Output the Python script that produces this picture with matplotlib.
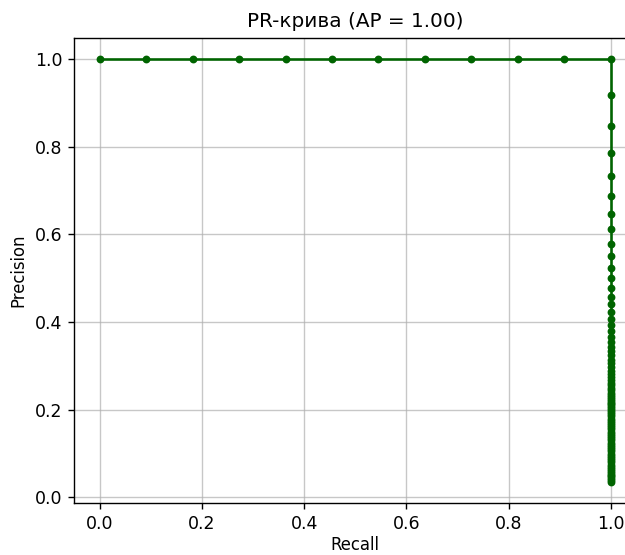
#!/usr/bin/env python3

import matplotlib
matplotlib.use('Agg')
import matplotlib.pyplot as plt

# sklearn-style PR curve output: 11 positives, recall steps of 1/11
recall_top = [0.0, 0.091, 0.182, 0.273, 0.364, 0.455, 0.545, 0.636,
              0.727, 0.818, 0.909, 1.0]
precision_top = [1.0] * len(recall_top)

# precision values read along the vertical drop at recall = 1.0
precision_drop = [0.917, 0.846, 0.786, 0.733, 0.688, 0.647, 0.611, 0.579,
                  0.550, 0.524, 0.500, 0.478, 0.458, 0.440, 0.423, 0.407,
                  0.393, 0.379, 0.367, 0.355, 0.344, 0.333, 0.324, 0.314,
                  0.306, 0.297, 0.289, 0.282, 0.275, 0.268, 0.262, 0.256,
                  0.250, 0.244, 0.239, 0.234, 0.229, 0.224, 0.220, 0.216,
                  0.212, 0.208, 0.204, 0.200, 0.195, 0.190, 0.185, 0.180,
                  0.175, 0.170, 0.165, 0.160, 0.155, 0.150, 0.145, 0.140,
                  0.135, 0.130, 0.125, 0.120, 0.115, 0.110, 0.105, 0.100,
                  0.095, 0.090, 0.085, 0.080, 0.075, 0.070, 0.065, 0.060,
                  0.056, 0.052, 0.048, 0.044, 0.040, 0.036]
recall_drop = [1.0] * len(precision_drop)

ap_value = 1.00


def main():
    recall = recall_top + recall_drop
    precision = precision_top + precision_drop

    fig = plt.figure(figsize=(5, 4.44), dpi=125)
    # axes run past the right edge, like the cropped original
    ax = fig.add_axes([0.119, 0.094, 0.899, 0.838])
    ax.plot(recall, precision, marker='.', color='darkgreen',
            linewidth=1.5, markersize=7)
    ax.set_title(f"PR-крива (AP = {ap_value:.2f})", fontsize=11.5)
    ax.set_xlabel("Recall", fontsize=9.5, labelpad=2)
    ax.set_ylabel("Precision", fontsize=9.5)
    ax.grid(True, alpha=0.7)
    fig.savefig("out.png", dpi=125)
    plt.close(fig)


if __name__ == "__main__":
    main()
